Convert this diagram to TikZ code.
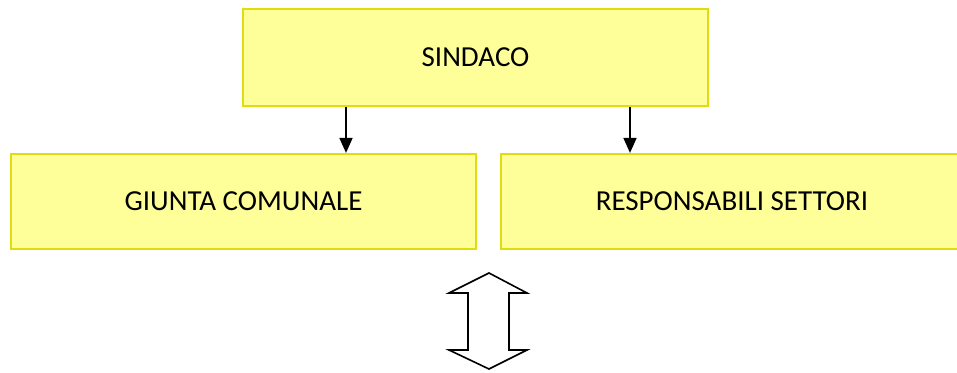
\documentclass[tikz,border=0pt]{standalone}
\usepackage{fontspec}
\setmainfont{Carlito}
\usetikzlibrary{arrows.meta}
\definecolor{boxfill}{HTML}{FFFF99}
\definecolor{boxline}{HTML}{E0DC10}
\begin{document}
\begin{tikzpicture}[x=1pt,y=-1pt,
  orgbox/.style={draw=boxline,fill=boxfill,line width=2.2pt,font=\fontsize{29}{34}\selectfont},
  conn/.style={line width=1.7pt,-{Triangle[length=15pt,width=13pt]}}]
\useasboundingbox (0,0) rectangle (957,372);
\clip (0,0) rectangle (957,372);
\node[orgbox,minimum width=465pt,minimum height=97pt] (sind) at (475.5,57.5) {SINDACO};
\node[orgbox,minimum width=465pt,minimum height=95pt] (giunta) at (243.5,201.5) {GIUNTA COMUNALE};
\node[orgbox,minimum width=462pt,minimum height=95pt] (resp) at (732,201.5) {RESPONSABILI SETTORI};
\draw[conn] (sind.south -| 346,0) -- (giunta.north -| 346,0);
\draw[conn] (sind.south -| 630,0) -- (resp.north -| 630,0);
\draw[line width=1.6pt,fill=white,line join=miter]
  (489,273) -- (527,293) -- (509,293) -- (509,350) -- (527,350) -- (489,369)
  -- (449,350) -- (468,350) -- (468,293) -- (449,293) -- cycle;
\end{tikzpicture}
\end{document}
